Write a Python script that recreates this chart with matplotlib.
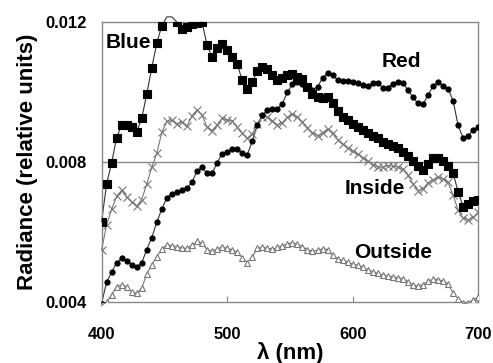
import numpy as np
import matplotlib
matplotlib.use("Agg")
import matplotlib.pyplot as plt

plt.rcParams['font.family'] = ['Liberation Sans', 'DejaVu Sans']

# wavelength grid (nm), 4 nm steps
wl = np.arange(400, 701, 4)

# radiance, in units of 1e-3 (relative units)
blue = [6.29, 7.37, 7.98, 8.7, 9.06, 9.06, 9.0, 8.87, 9.25, 9.95,
        10.7, 11.4, 11.9, 12.15, 12.15, 12.0, 11.8, 11.85, 11.96, 11.98,
        12.0, 11.35, 11.0, 11.25, 11.38, 11.2, 11.0, 10.8, 10.35, 10.1,
        10.28, 10.6, 10.72, 10.66, 10.5, 10.34, 10.4, 10.5, 10.52, 10.43,
        10.37, 10.15, 9.95, 9.87, 9.82, 9.85, 9.7, 9.45, 9.3, 9.2,
        9.1, 9.0, 8.92, 8.82, 8.75, 8.68, 8.58, 8.51, 8.47, 8.4,
        8.3, 8.18, 8.03, 7.88, 7.78, 7.95, 8.12, 8.12, 8.04, 7.9,
        7.68, 7.15, 6.72, 6.8, 6.88, 6.93]
red = [3.95, 4.57, 4.85, 5.12, 5.25, 5.18, 5.06, 5.0, 5.12, 5.5,
       5.84, 6.28, 6.66, 6.98, 7.1, 7.15, 7.2, 7.26, 7.42, 7.75,
       7.85, 7.68, 7.68, 7.98, 8.24, 8.3, 8.36, 8.38, 8.26, 8.2,
       8.6, 9.05, 9.34, 9.48, 9.51, 9.52, 9.67, 10.0, 10.22, 10.29,
       10.24, 10.14, 10.06, 10.15, 10.4, 10.55, 10.5, 10.34, 10.33, 10.33,
       10.3, 10.25, 10.2, 10.17, 10.25, 10.27, 10.12, 10.13, 10.24, 10.3,
       10.27, 10.06, 9.85, 9.68, 9.65, 9.91, 10.17, 10.29, 10.18, 10.1,
       9.75, 9.05, 8.68, 8.75, 8.92, 8.99]
inside = [5.49, 6.2, 6.65, 7.02, 7.19, 7.0, 6.86, 6.74, 6.93, 7.37,
          7.85, 8.25, 8.85, 9.16, 9.19, 9.1, 9.14, 9.02, 9.32, 9.49,
          9.35, 9.0, 8.9, 9.06, 9.25, 9.2, 9.18, 9.0, 8.82, 8.68,
          8.8, 9.1, 9.3, 9.3, 9.18, 9.06, 9.12, 9.28, 9.38, 9.29,
          9.15, 8.98, 8.84, 8.75, 8.84, 8.95, 8.82, 8.64, 8.51, 8.41,
          8.32, 8.23, 8.13, 8.03, 7.93, 7.86, 7.85, 7.9, 7.88, 7.86,
          7.8, 7.62, 7.38, 7.18, 7.24, 7.4, 7.5, 7.57, 7.52, 7.42,
          7.06, 6.62, 6.4, 6.35, 6.42, 6.56]
outside = [3.9, 4.0, 4.21, 4.44, 4.49, 4.44, 4.29, 4.25, 4.4, 4.8,
           5.06, 5.3, 5.52, 5.63, 5.61, 5.58, 5.55, 5.53, 5.62, 5.73,
           5.68, 5.5, 5.45, 5.52, 5.57, 5.54, 5.49, 5.42, 5.27, 5.12,
           5.29, 5.53, 5.57, 5.54, 5.51, 5.56, 5.61, 5.66, 5.7, 5.65,
           5.58, 5.49, 5.45, 5.48, 5.52, 5.5, 5.33, 5.24, 5.19, 5.14,
           5.09, 5.05, 5.0, 4.91, 4.87, 4.82, 4.77, 4.74, 4.72, 4.69,
           4.67, 4.58, 4.5, 4.45, 4.5, 4.6, 4.65, 4.64, 4.6, 4.52,
           4.25, 4.1, 3.96, 3.97, 4.07, 4.13]

series = {
    'Blue': np.array(blue) / 1000,
    'Red': np.array(red) / 1000,
    'Inside': np.array(inside) / 1000,
    'Outside': np.array(outside) / 1000,
}

fig = plt.figure(figsize=(4.93, 3.63), dpi=100)
ax = fig.add_axes([0.206, 0.168, 0.764, 0.771])

styles = {
    'Blue': dict(marker='s', ms=5.8, mfc='black', mec='black', lc='#333333'),
    'Red': dict(marker='o', ms=3.7, mfc='black', mec='black', lc='#333333'),
    'Inside': dict(marker='x', ms=5.5, mfc='#777777', mec='#777777', lc='#777777'),
    'Outside': dict(marker='^', ms=4.5, mfc='white', mec='#777777', lc='#777777'),
}
for name in ['Outside', 'Inside', 'Red', 'Blue']:
    y = series[name]
    st = styles[name]
    # line may run past the frame, markers stay inside
    ax.plot(wl, y, color=st['lc'], lw=0.8, clip_on=False, zorder=2)
    ax.plot(wl, y, ls='none', marker=st['marker'], ms=st['ms'],
            mfc=st['mfc'], mec=st['mec'], mew=0.8, zorder=3)

ax.axhline(0.008, color='#888888', lw=1, zorder=1)

ax.set_xlim(400, 700)
ax.set_ylim(0.004, 0.012)
ax.set_xticks([400, 500, 600, 700])
ax.set_yticks([0.004, 0.008, 0.012])
ax.set_yticklabels(['0.004', '0.008', '0.012'])
ax.tick_params(axis='x', direction='in', length=4, color='#888888',
               labelsize=12, pad=18)
ax.tick_params(axis='y', length=0, labelsize=12, pad=11)
for lab in ax.get_xticklabels() + ax.get_yticklabels():
    lab.set_fontweight('bold')
for sp in ax.spines.values():
    sp.set_color('#888888')
    sp.set_linewidth(1)

ax.set_xlabel('λ (nm)', fontsize=16, fontweight='bold', labelpad=0)
ax.set_ylabel('Radiance (relative units)', fontsize=16, fontweight='bold',
              labelpad=5)

lab_kw = dict(fontsize=15, fontweight='bold', ha='center', va='center')
ax.text(421, 0.01143, 'Blue', **lab_kw)
ax.text(638.5, 0.01087, 'Red', **lab_kw)
ax.text(618, 0.00725, 'Inside', **lab_kw)
ax.text(632, 0.00542, 'Outside', **lab_kw)

fig.savefig('out.png', dpi=100)
